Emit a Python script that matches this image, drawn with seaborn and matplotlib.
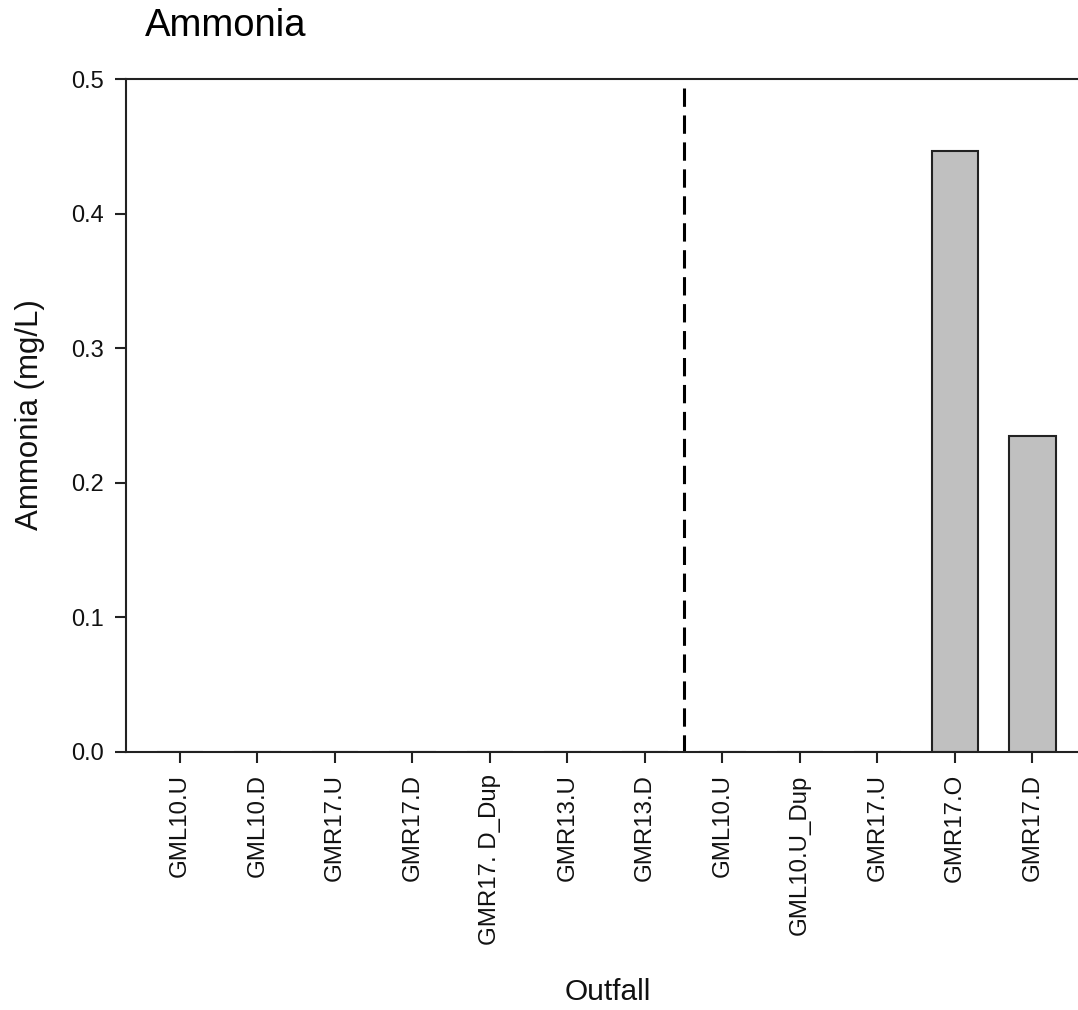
import matplotlib
matplotlib.use("Agg")
import matplotlib.pyplot as plt
import seaborn as sns
import pandas as pd

categories = ["GML10.U", "GML10.D", "GMR17.U", "GMR17.D", "GMR17. D_Dup", "GMR13.U",
              "GMR13.D", "GML10.U ", "GML10.U_Dup", "GMR17.U ", "GMR17.O", "GMR17.D "]
tick_labels = ["GML10.U", "GML10.D", "GMR17.U", "GMR17.D", "GMR17. D_Dup", "GMR13.U",
               "GMR13.D", "GML10.U", "GML10.U_Dup", "GMR17.U", "GMR17.O", "GMR17.D"]
values = [0, 0, 0, 0, 0, 0, 0, 0, 0, 0, 0.4465, 0.235]
y_ticks = [0.0, 0.1, 0.2, 0.3, 0.4, 0.5]
divider_pos = 6.5

sns.set_theme(style="white")
plt.rcParams['font.family'] = ['Liberation Sans', 'DejaVu Sans']

df = pd.DataFrame({"Outfall": categories, "Ammonia": values})

fig = plt.figure(figsize=(10.78, 10.10), dpi=100)
ax = fig.add_axes([126/1078, 258/1010, 1 - 126/1078, (752-79)/1010])

sns.barplot(data=df, x="Outfall", y="Ammonia", order=categories, color="#c0c0c0",
            edgecolor="#222222", linewidth=1.5, width=0.6, saturation=1, ax=ax)

# draw from top to bottom so the dash pattern starts at the top like the reference
ax.axvline(divider_pos, ymin=(0.5-0.0066)/0.5, ymax=0, color="black", lw=2.2,
           linestyle=(0, (6, 2.82)))

ax.set_xlim(-0.697, 11.59)
ax.set_ylim(0, 0.5)
ax.set_yticks(y_ticks)
ax.set_yticklabels([f"{v:.1f}" for v in y_ticks], fontsize=17, color="#111111")
ax.set_xticks(range(len(categories)))
ax.set_xticklabels(tick_labels, rotation=90, fontsize=17.3, color="#111111")
ax.tick_params(axis="both", direction="out", length=8, width=1.5, color="#222222",
               bottom=True, left=True, pad=8)
ax.set_xlabel("")
ax.set_ylabel("")

for s in ["left", "bottom", "top"]:
    ax.spines[s].set_visible(True)
    ax.spines[s].set_color("#222222")
    ax.spines[s].set_linewidth(1.5)
ax.spines["right"].set_visible(False)

fig.text(145/1078, 1 - 36/1010, "Ammonia", fontsize=27.5, ha="left", va="baseline", color="black")
fig.text(30/1078, 1 - 415/1010, "Ammonia (mg/L)", fontsize=22.5, rotation=90,
         ha="center", va="center", color="#111111")
fig.text(608/1078, 1 - 992/1010, "Outfall", fontsize=21.5, ha="center", va="center", color="#111111")

fig.savefig("out.png", dpi=100)
